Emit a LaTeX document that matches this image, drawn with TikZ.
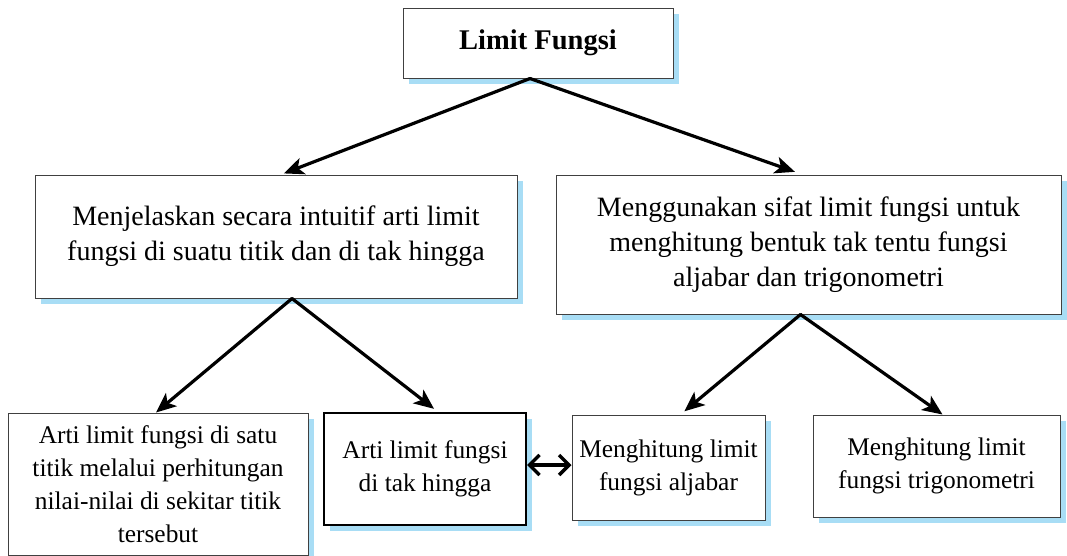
\documentclass[tikz,border=0pt]{standalone}
\usepackage{fontspec}
\setmainfont{Liberation Serif}
\usepackage{tikz}
\usetikzlibrary{arrows.meta, calc}
\usetikzlibrary{shadows}
\definecolor{ombra}{HTML}{A8DDF5}

\begin{document}
\begin{tikzpicture}[x=1pt, y=-1pt, line cap=round,
  kotak/.style={draw=black!75, line width=1pt, fill=white, align=center,
    inner sep=0pt, drop shadow={shadow xshift=6pt, shadow yshift=-6pt, fill=ombra, opacity=1}},
  teks/.style={font=\fontsize{28}{35}\selectfont},
  kecil/.style={font=\fontsize{25.4}{33}\selectfont},
  panah/.style={-{Stealth[length=20pt, width=17pt, inset=5pt]}, line width=3.2pt}]

\useasboundingbox (0,0) rectangle (1067,555);

% Kotak utama
\node[kotak, minimum width=270pt, minimum height=70pt,
  font=\fontsize{28.5}{33}\selectfont\bfseries] (utama) at (538,43) {Limit Fungsi};

% Tingkat kedua
\node[kotak, teks, minimum width=482pt, minimum height=123pt] (kiri) at (276,236.5)
  {Menjelaskan secara intuitif arti limit\\fungsi di suatu titik dan di tak hingga};
\node[kotak, teks, minimum width=505pt, minimum height=139pt] (kanan) at (808.5,244.5)
  {Menggunakan sifat limit fungsi untuk\\menghitung bentuk tak tentu fungsi\\aljabar dan trigonometri};

% Tingkat ketiga
\node[kotak, kecil, minimum width=300pt, minimum height=142pt] (titik) at (158,484)
  {Arti limit fungsi di satu\\titik melalui perhitungan\\nilai-nilai di sekitar titik\\tersebut};
\node[kotak, kecil, draw=black, line width=2.2pt, minimum width=202pt, minimum height=112pt] (takhingga) at (425,469)
  {Arti limit fungsi\\di tak hingga};
\node[kotak, kecil, minimum width=193pt, minimum height=105pt] (aljabar) at (668.5,467.5)
  {Menghitung limit\\fungsi aljabar};
\node[kotak, kecil, minimum width=247pt, minimum height=102pt] (trigono) at (936.5,466)
  {Menghitung limit\\fungsi trigonometri};

% Panah
\draw[panah, shorten >=3pt] ([xshift=-8pt]utama.south) -- ([xshift=5pt]kiri.north);
\draw[panah, shorten >=8pt] ([xshift=-8pt]utama.south) -- ([xshift=-6pt]kanan.north);
\draw[panah] ([xshift=16pt]kiri.south) -- ([xshift=-2pt]titik.north);
\draw[panah, shorten >=5pt] ([xshift=16pt]kiri.south) -- ([xshift=13pt]takhingga.north);
\draw[panah, shorten >=5pt] ([xshift=-8pt]kanan.south) -- ([xshift=12pt]aljabar.north);
\draw[panah] ([xshift=-8pt]kanan.south) -- ([xshift=6pt]trigono.north);

% Panah dua arah
\draw[{Straight Barb[length=10pt, width=20pt]}-{Straight Barb[length=10pt, width=20pt]}, line width=3.4pt]
  ([yshift=4pt]takhingga.east) -- ([yshift=4pt]takhingga.east -| aljabar.west);

\end{tikzpicture}
\end{document}
